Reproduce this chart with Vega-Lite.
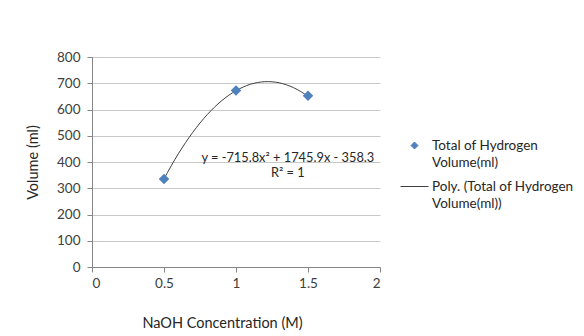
{
  "$schema": "https://vega.github.io/schema/vega-lite/v6.json",
  "width": 288,
  "height": 210,
  "autosize": "none",
  "padding": {"left": 92, "top": 57, "right": 204, "bottom": 69},
  "background": "white",
  "config": {
    "font": "Lato",
    "view": {"stroke": null},
    "axis": {"labelFont": "Lato", "titleFont": "Lato", "labelColor": "#404040", "titleColor": "#262626", "labelFontSize": 13.5, "titleFontSize": 14.5, "titleFontWeight": "normal", "domainColor": "#868686", "tickColor": "#868686", "gridColor": "#c8c8c8", "tickSize": 5}
  },
  "datasets": {
    "points": [
      {"c": 0.5, "v": 335, "series": "Total of Hydrogen Volume(ml)"},
      {"c": 1.0, "v": 672, "series": "Total of Hydrogen Volume(ml)"},
      {"c": 1.5, "v": 652, "series": "Total of Hydrogen Volume(ml)"}
    ],
    "curve": [
      {"c": 0.50, "v": 335.7, "series": "Poly. (Total of Hydrogen Volume(ml))"},
      {"c": 0.55, "v": 385.4, "series": "Poly. (Total of Hydrogen Volume(ml))"},
      {"c": 0.60, "v": 431.6, "series": "Poly. (Total of Hydrogen Volume(ml))"},
      {"c": 0.65, "v": 474.1, "series": "Poly. (Total of Hydrogen Volume(ml))"},
      {"c": 0.70, "v": 513.1, "series": "Poly. (Total of Hydrogen Volume(ml))"},
      {"c": 0.75, "v": 548.5, "series": "Poly. (Total of Hydrogen Volume(ml))"},
      {"c": 0.80, "v": 580.3, "series": "Poly. (Total of Hydrogen Volume(ml))"},
      {"c": 0.85, "v": 608.6, "series": "Poly. (Total of Hydrogen Volume(ml))"},
      {"c": 0.90, "v": 633.2, "series": "Poly. (Total of Hydrogen Volume(ml))"},
      {"c": 0.95, "v": 654.3, "series": "Poly. (Total of Hydrogen Volume(ml))"},
      {"c": 1.00, "v": 671.8, "series": "Poly. (Total of Hydrogen Volume(ml))"},
      {"c": 1.05, "v": 685.7, "series": "Poly. (Total of Hydrogen Volume(ml))"},
      {"c": 1.10, "v": 696.1, "series": "Poly. (Total of Hydrogen Volume(ml))"},
      {"c": 1.15, "v": 702.8, "series": "Poly. (Total of Hydrogen Volume(ml))"},
      {"c": 1.20, "v": 706.0, "series": "Poly. (Total of Hydrogen Volume(ml))"},
      {"c": 1.25, "v": 705.6, "series": "Poly. (Total of Hydrogen Volume(ml))"},
      {"c": 1.30, "v": 701.7, "series": "Poly. (Total of Hydrogen Volume(ml))"},
      {"c": 1.35, "v": 694.1, "series": "Poly. (Total of Hydrogen Volume(ml))"},
      {"c": 1.40, "v": 683.0, "series": "Poly. (Total of Hydrogen Volume(ml))"},
      {"c": 1.45, "v": 668.3, "series": "Poly. (Total of Hydrogen Volume(ml))"},
      {"c": 1.50, "v": 650.0, "series": "Poly. (Total of Hydrogen Volume(ml))"}
    ],
    "eq": [
      {"line1": "y = -715.8x² + 1745.9x - 358.3", "line2": "R² = 1"}
    ]
  },
  "layer": [
    {
      "data": {"name": "curve"},
      "mark": {"type": "line", "strokeWidth": 1, "interpolate": "natural"},
      "encoding": {
        "x": {"field": "c", "type": "quantitative", "scale": {"domain": [0, 2]},
          "axis": {"title": "NaOH Concentration (M)", "values": [0, 0.5, 1, 1.5, 2], "format": "~g", "grid": false, "labelPadding": 4, "titleX": 130, "titleY": 56, "titleBaseline": "middle", "titleAnchor": null, "titleAlign": "center"}},
        "y": {"field": "v", "type": "quantitative", "scale": {"domain": [0, 800]},
          "axis": {"title": "Volume (ml)", "values": [0, 100, 200, 300, 400, 500, 600, 700, 800], "labelPadding": 7, "titleX": -59, "titleY": 105, "titleAngle": 270, "titleAlign": "center", "titleBaseline": "middle"}},
        "color": {"field": "series", "type": "nominal",
          "scale": {"domain": ["Total of Hydrogen Volume(ml)", "Poly. (Total of Hydrogen Volume(ml))"], "range": ["#4F81BD", "#404040"]},
          "legend": {
            "title": null, "orient": "none", "legendX": 308, "legendY": 74, "padding": 0,
            "labelFont": "Lato", "labelFontSize": 13.5, "labelColor": "#262626", "labelOffset": 3, "labelLimit": 300,
            "rowPadding": 3, "symbolOpacity": 1,
            "labelExpr": "datum.value == 'Total of Hydrogen Volume(ml)' ? ['Total of Hydrogen', 'Volume(ml)'] : ['Poly. (Total of Hydrogen', 'Volume(ml))']",
            "encode": {
              "symbols": {"update": {
                "shape": {"signal": "datum.value == 'Total of Hydrogen Volume(ml)' ? 'diamond' : 'stroke'"},
                "size": {"signal": "datum.value == 'Total of Hydrogen Volume(ml)' ? 49 : 784"},
                "fill": {"signal": "datum.value == 'Total of Hydrogen Volume(ml)' ? '#4F81BD' : 'transparent'"},
                "stroke": {"signal": "datum.value == 'Total of Hydrogen Volume(ml)' ? 'transparent' : '#000000'"},
                "strokeWidth": {"value": 1}
              }},
              "labels": {"update": {"lineHeight": {"value": 17}}}
            }
          }}
      }
    },
    {
      "data": {"name": "points"},
      "mark": {"type": "point", "filled": true, "size": 110, "opacity": 1, "shape": "diamond"},
      "encoding": {
        "x": {"field": "c", "type": "quantitative", "scale": {"domain": [0, 2]},
          "axis": {"title": "NaOH Concentration (M)", "values": [0, 0.5, 1, 1.5, 2], "format": "~g", "grid": false, "labelPadding": 4, "titleX": 130, "titleY": 56, "titleBaseline": "middle", "titleAnchor": null, "titleAlign": "center"}},
        "y": {"field": "v", "type": "quantitative", "scale": {"domain": [0, 800]},
          "axis": {"title": "Volume (ml)", "values": [0, 100, 200, 300, 400, 500, 600, 700, 800], "labelPadding": 7, "titleX": -59, "titleY": 105, "titleAngle": 270, "titleAlign": "center", "titleBaseline": "middle"}},
        "color": {"field": "series", "type": "nominal"}
      }
    },
    {
      "data": {"name": "eq"},
      "mark": {"type": "text", "font": "Lato", "fontSize": 12.8, "fill": "#262626", "align": "center", "baseline": "middle"},
      "encoding": {
        "x": {"datum": 1.36, "type": "quantitative",
          "axis": {"title": "NaOH Concentration (M)", "values": [0, 0.5, 1, 1.5, 2], "format": "~g", "grid": false, "labelPadding": 4, "titleX": 130, "titleY": 56, "titleBaseline": "middle", "titleAnchor": null, "titleAlign": "center"}},
        "y": {"datum": 416, "type": "quantitative",
          "axis": {"title": "Volume (ml)", "values": [0, 100, 200, 300, 400, 500, 600, 700, 800], "labelPadding": 7, "titleX": -59, "titleY": 105, "titleAngle": 270, "titleAlign": "center", "titleBaseline": "middle"}},
        "text": {"field": "line1"}
      }
    },
    {
      "data": {"name": "eq"},
      "mark": {"type": "text", "font": "Lato", "fontSize": 12.8, "fill": "#262626", "align": "center", "baseline": "middle"},
      "encoding": {
        "x": {"datum": 1.36, "type": "quantitative",
          "axis": {"title": "NaOH Concentration (M)", "values": [0, 0.5, 1, 1.5, 2], "format": "~g", "grid": false, "labelPadding": 4, "titleX": 130, "titleY": 56, "titleBaseline": "middle", "titleAnchor": null, "titleAlign": "center"}},
        "y": {"datum": 360, "type": "quantitative",
          "axis": {"title": "Volume (ml)", "values": [0, 100, 200, 300, 400, 500, 600, 700, 800], "labelPadding": 7, "titleX": -59, "titleY": 105, "titleAngle": 270, "titleAlign": "center", "titleBaseline": "middle"}},
        "text": {"field": "line2"}
      }
    }
  ]
}
